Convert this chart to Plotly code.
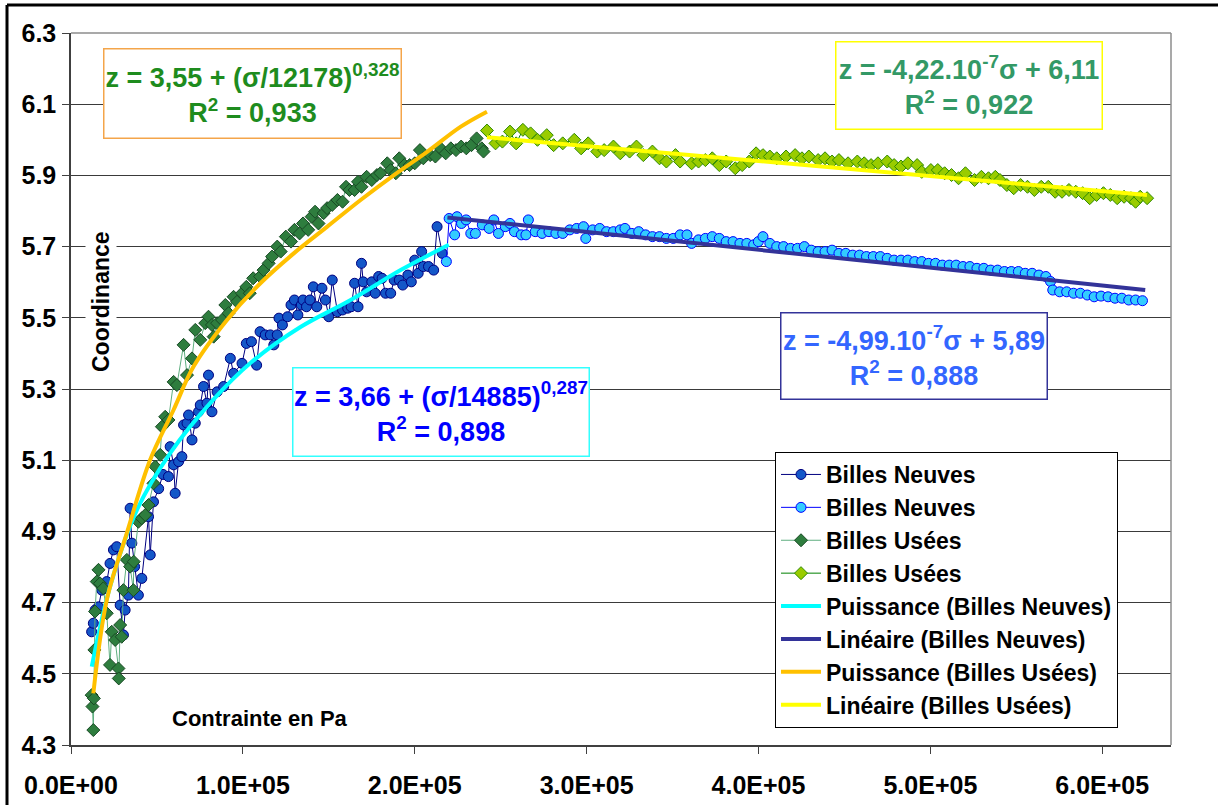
import plotly.graph_objects as go

# ---------------- data ----------------
neuves1_x = [12000, 13000, 14000, 16000, 17900, 20800, 22700, 24700, 26600, 28600,
             30500, 31500, 33400, 34400, 35400, 37000, 39200, 41200, 45100, 46100,
             48000, 51000, 53500, 56700, 57700, 59700, 60600, 62600, 64500, 65500,
             67500, 68400, 70400, 72300, 74200, 75200, 77100, 79100, 80000, 82000,
             85000, 88800, 92700, 94600, 99500, 102000, 105000, 108000, 110000, 113000,
             116000, 118000, 120000, 121000, 123000, 126000, 128000, 130000, 132000, 134000,
             135000, 137000, 139000, 141000, 143000, 146000, 148000, 150000, 152000, 155000,
             158000, 161000, 163000, 165000, 167000, 169000, 170000, 172000, 175000, 177000,
             179000, 181000, 183000, 186000, 188000, 191000, 193000, 196000, 198000, 200000,
             202000, 204000, 205000, 208000, 211000, 213000, 216000]
neuves1_z = [4.618, 4.642, 4.679, 4.688, 4.735, 4.759, 4.81, 4.848, 4.857, 4.693,
             4.609, 4.679, 4.721, 4.965, 4.867, 4.801, 4.721, 4.768, 4.941, 4.834,
             4.983, 5.02, 5.06, 5.054, 5.138, 5.087, 5.007, 5.096, 5.11, 5.199,
             5.204, 5.227, 5.157, 5.204, 5.236, 5.255, 5.307, 5.26, 5.339, 5.236,
             5.292, 5.307, 5.386, 5.344, 5.372, 5.428, 5.433, 5.367, 5.461, 5.452,
             5.452, 5.424, 5.452, 5.499, 5.48, 5.503, 5.536, 5.55, 5.508, 5.536,
             5.55, 5.531, 5.55, 5.587, 5.531, 5.583, 5.55, 5.503, 5.606, 5.517,
             5.522, 5.527, 5.531, 5.597, 5.531, 5.653, 5.601, 5.573, 5.601, 5.569,
             5.616, 5.611, 5.569, 5.569, 5.606, 5.606, 5.592, 5.62, 5.601, 5.662,
             5.625, 5.686, 5.644, 5.644, 5.634, 5.756, 5.681]

neuves2_x = [218400, 220000, 223200, 224600, 227200, 229900, 232600, 235300, 239300, 243300,
             246000, 248700, 252700, 255400, 258000, 262000, 264700, 266100, 270100, 274100,
             278100, 282100, 286100, 290200, 294200, 298200, 299500, 303500, 307600, 311600,
             315600, 319600, 322300, 326300, 330300, 334300, 338300, 342400, 346400, 350400,
             354400, 358400, 361100, 365100, 369100, 373100, 377200, 381200, 385200, 389200,
             393200, 397200, 399900, 402600, 406600, 410600, 414600, 418700, 422700, 426700,
             430700, 434700, 438700, 442800, 446800, 450800, 454800, 458800, 462800, 466800,
             470900, 474900, 478900, 482900, 486900, 490900, 495000, 499000, 503000, 507000,
             511000, 515000, 519000, 523000, 527100, 531100, 535100, 539100, 543100, 547100,
             551200, 555200, 559200, 563200, 567200, 569900, 571200, 575200, 579300, 583300,
             587300, 591300, 595300, 599300, 603400, 607400, 611400, 615400, 619400, 623400]
neuves2_z = [5.658, 5.779, 5.733, 5.784, 5.765, 5.775, 5.737, 5.737, 5.761, 5.751,
             5.775, 5.737, 5.756, 5.765, 5.742, 5.733, 5.733, 5.775, 5.742, 5.737,
             5.742, 5.737, 5.737, 5.747, 5.751, 5.756, 5.723, 5.747, 5.751, 5.742,
             5.742, 5.747, 5.751, 5.737, 5.742, 5.733, 5.728, 5.728, 5.723, 5.723,
             5.733, 5.733, 5.709, 5.719, 5.723, 5.728, 5.723, 5.714, 5.714, 5.709,
             5.709, 5.705, 5.714, 5.728, 5.709, 5.70, 5.70, 5.695, 5.695, 5.70,
             5.69, 5.686, 5.686, 5.69, 5.681, 5.681, 5.676, 5.676, 5.672, 5.672,
             5.672, 5.667, 5.662, 5.662, 5.662, 5.658, 5.658, 5.653, 5.653, 5.648,
             5.648, 5.648, 5.644, 5.644, 5.639, 5.639, 5.634, 5.634, 5.63, 5.63,
             5.63, 5.625, 5.625, 5.62, 5.616, 5.602, 5.578, 5.573, 5.573, 5.569,
             5.569, 5.564, 5.559, 5.561, 5.559, 5.555, 5.555, 5.55, 5.55, 5.548]

usees1_x = [12000, 12500, 13000, 13300, 13600, 14000, 15000, 16000, 16900, 18800,
            20800, 22700, 23700, 25700, 27600, 27800, 28600, 29500, 30500, 32500,
            34400, 36300, 36500, 39200, 41200, 43200, 45100, 48000, 49000, 51900,
            52900, 54800, 56700, 59700, 61600, 65500, 67500, 70400, 72300, 75200,
            78100, 80000, 82000, 83000, 85000, 87900, 89800, 91700, 94600, 96600,
            99500, 102000, 104000, 106000, 110000, 112000, 115000, 117000, 120000, 122000,
            125000, 128000, 130000, 133000, 135000, 138000, 140000, 142000, 144000, 147000,
            149000, 152000, 155000, 158000, 160000, 162000, 165000, 167000, 169000, 172000,
            175000, 178000, 180000, 184000, 186000, 189000, 191000, 194000, 197000, 200000,
            203000, 205000, 209000, 212000, 215000, 218000, 221000, 224000, 227000, 230000,
            233000, 236000, 239000, 240000]
usees1_z = [4.44, 4.408, 4.342, 4.431, 4.567, 4.675, 4.759, 4.792, 4.754, 4.74,
            4.67, 4.525, 4.618, 4.595, 4.515, 4.487, 4.637, 4.604, 4.735, 4.82,
            4.801, 4.735, 4.815, 4.927, 4.937, 4.946, 4.974, 5.035, 5.082, 5.115,
            5.194, 5.222, 5.213, 5.32, 5.311, 5.424, 5.339, 5.386, 5.466, 5.438,
            5.485, 5.503, 5.48, 5.447, 5.485, 5.494, 5.536, 5.513, 5.559, 5.545,
            5.569, 5.587, 5.569, 5.611, 5.616, 5.634, 5.653, 5.672, 5.70, 5.686,
            5.728, 5.714, 5.747, 5.737, 5.765, 5.747, 5.784, 5.798, 5.765, 5.794,
            5.808, 5.817, 5.831, 5.826, 5.868, 5.859, 5.859, 5.882, 5.868, 5.896,
            5.887, 5.901, 5.906, 5.934, 5.915, 5.906, 5.948, 5.929, 5.929, 5.934,
            5.971, 5.948, 5.957, 5.953, 5.976, 5.962, 5.976, 5.971, 5.981, 5.976,
            5.985, 6.004, 5.976, 5.967]

usees2_x = [242000, 247000, 251000, 255400, 259000, 262900, 267400, 271400, 276800, 280800,
            286100, 292800, 296800, 300900, 306200, 310200, 315600, 319600, 325000, 329000,
            333000, 338300, 342400, 346400, 351700, 354400, 361100, 365100, 369100, 373100,
            377200, 381200, 386500, 390500, 394600, 398600, 402600, 406600, 410600, 416000,
            421300, 425300, 429300, 434700, 438700, 442800, 446800, 452100, 457500, 461500,
            465500, 469500, 474900, 478900, 482900, 486900, 492300, 495000, 500300, 504300,
            508300, 512300, 516400, 520400, 525700, 529700, 533800, 537800, 540500, 544500,
            548500, 552500, 556500, 560500, 564500, 568600, 572600, 576600, 580600, 584600,
            588600, 592700, 596700, 600700, 604700, 608700, 612700, 616700, 619400, 622100,
            626100]
usees2_z = [6.026, 5.99, 5.995, 6.023, 5.99, 6.028, 6.018, 6.0, 6.013, 5.985,
            5.99, 6.0, 5.976, 5.99, 5.967, 5.971, 5.981, 5.962, 5.967, 5.981,
            5.957, 5.967, 5.948, 5.939, 5.957, 5.939, 5.934, 5.939, 5.943, 5.948,
            5.929, 5.939, 5.92, 5.929, 5.939, 5.962, 5.957, 5.953, 5.948, 5.953,
            5.957, 5.948, 5.953, 5.943, 5.948, 5.939, 5.943, 5.934, 5.939, 5.934,
            5.929, 5.934, 5.939, 5.929, 5.925, 5.934, 5.929, 5.91, 5.915, 5.915,
            5.906, 5.901, 5.892, 5.906, 5.887, 5.896, 5.892, 5.896, 5.887, 5.873,
            5.864, 5.873, 5.868, 5.859, 5.868, 5.868, 5.854, 5.854, 5.859, 5.854,
            5.85, 5.836, 5.845, 5.85, 5.845, 5.836, 5.84, 5.836, 5.826, 5.84,
            5.836]

# trend lines
puis_neuves_x = [12070, 22740, 38310, 57730, 82800, 104400, 133500, 162700, 191800, 219800]
puis_neuves_z = [4.52, 4.745, 4.96, 5.12, 5.27, 5.373, 5.474, 5.55, 5.634, 5.705]
lin_neuves_x = [219000, 625000]
lin_neuves_z = [5.782, 5.578]
puis_usees_x = [13000, 20800, 32480, 46060, 59650, 71300, 90780, 110200, 129600,
                149100, 168500, 187900, 207400, 226800, 242000]
puis_usees_z = [4.445, 4.707, 4.895, 5.101, 5.241, 5.363, 5.494, 5.597, 5.681,
                5.756, 5.831, 5.901, 5.967, 6.037, 6.079]
lin_usees_x = [242000, 626000]
lin_usees_z = [6.007, 5.845]

x_tick_vals = [0, 100000, 200000, 300000, 400000, 500000, 600000]
x_tick_text = ["0.0E+00", "1.0E+05", "2.0E+05", "3.0E+05", "4.0E+05", "5.0E+05", "6.0E+05"]

# ---------------- figure ----------------
FONT = "Liberation Sans, Arial, sans-serif"
W, H = 1218, 805
L, R, T, B = 71, 1171, 33, 745


def pp(px, py):
    return (px - L) / (R - L), (B - py) / (B - T)


fig = go.Figure()

fig.add_trace(go.Scatter(
    x=neuves1_x, y=neuves1_z, mode="lines+markers", name="Billes Neuves",
    line=dict(color="#000080", width=1),
    marker=dict(symbol="circle", size=10, color="#1457C8", line=dict(color="#000080", width=1))))
fig.add_trace(go.Scatter(
    x=neuves2_x, y=neuves2_z, mode="lines+markers", name="Billes Neuves",
    line=dict(color="#0000FF", width=1),
    marker=dict(symbol="circle", size=10, color="#33CCFF", line=dict(color="#0000FF", width=1))))
fig.add_trace(go.Scatter(
    x=usees1_x, y=usees1_z, mode="lines+markers", name="Billes Usées",
    line=dict(color="#5FAF80", width=1),
    marker=dict(symbol="diamond", size=10, color="#2E7D3E", line=dict(color="#184A24", width=1))))
fig.add_trace(go.Scatter(
    x=usees2_x, y=usees2_z, mode="lines+markers", name="Billes Usées",
    line=dict(color="#008000", width=1),
    marker=dict(symbol="diamond", size=10, color="#99CC00", line=dict(color="#2F8A00", width=1))))

fig.add_trace(go.Scatter(
    x=puis_neuves_x, y=puis_neuves_z, mode="lines", name="Puissance (Billes Neuves)",
    line=dict(color="#00FFFF", width=4, shape="spline", smoothing=1.0)))
fig.add_trace(go.Scatter(
    x=lin_neuves_x, y=lin_neuves_z, mode="lines", name="Linéaire (Billes Neuves)",
    line=dict(color="#333399", width=4)))
fig.add_trace(go.Scatter(
    x=puis_usees_x, y=puis_usees_z, mode="lines", name="Puissance (Billes Usées)",
    line=dict(color="#FFC000", width=4, shape="spline", smoothing=1.0)))
fig.add_trace(go.Scatter(
    x=lin_usees_x, y=lin_usees_z, mode="lines", name="Linéaire (Billes Usées)",
    line=dict(color="#FFFF00", width=4)))

tickfont = dict(family=FONT, size=25, color="black", weight="bold")

fig.update_xaxes(range=[0, 640000], tickvals=x_tick_vals, ticktext=x_tick_text,
                 ticks="outside", ticklen=7, tickcolor="#404040", tickwidth=1,
                 showline=True, linecolor="#404040", linewidth=1.5, automargin=False,
                 showgrid=False, zeroline=False, tickfont=tickfont, ticklabelstandoff=10)
fig.update_yaxes(range=[4.3, 6.3], tick0=4.3, dtick=0.2, tickformat=".1f",
                 ticks="outside", ticklen=7, tickcolor="#404040", tickwidth=1,
                 showline=True, linecolor="#404040", linewidth=1.5, automargin=False,
                 showgrid=True, gridcolor="#3a3a3a", gridwidth=1,
                 zeroline=False, tickfont=tickfont, ticklabelstandoff=1)

lx, ly = pp(775, 452)
fig.update_layout(
    width=W, height=H,
    margin=dict(l=L, r=W - R, t=T, b=H - B, pad=0, autoexpand=False),
    paper_bgcolor="white", plot_bgcolor="white",
    font=dict(family=FONT, color="black"),
    showlegend=True,
    legend=dict(x=lx, y=ly, xanchor="left", yanchor="top",
                bgcolor="white", bordercolor="black", borderwidth=1,
                font=dict(family=FONT, size=23, color="black", weight="bold"),
                itemwidth=40, tracegroupgap=0),
)

# plot-area border (top and right) and outer frame
x0p, y0p = pp(7, 5)
shapes = [
    dict(type="line", xref="paper", yref="paper", x0=0, x1=1, y0=1, y1=1,
         line=dict(color="#8c8c8c", width=1.5)),
    dict(type="line", xref="paper", yref="paper", x0=1, x1=1, y0=0, y1=1,
         line=dict(color="#8c8c8c", width=1.5)),
    dict(type="line", xref="paper", yref="paper", x0=x0p, x1=pp(1240, 0)[0], y0=y0p, y1=y0p,
         line=dict(color="black", width=3)),
    dict(type="line", xref="paper", yref="paper", x0=x0p, x1=x0p, y0=y0p, y1=pp(0, 830)[1],
         line=dict(color="black", width=3)),
]
fig.update_layout(shapes=shapes)


def eq_box(left, top, w, h, text, color, border):
    x, y = pp(left, top)
    fig.add_annotation(xref="paper", yref="paper", x=x, y=y, xanchor="left", yanchor="top",
                       text=text, showarrow=False, align="center", valign="middle",
                       width=w - 3, height=h - 3, borderpad=0, borderwidth=1.5,
                       bordercolor=border, bgcolor="white",
                       font=dict(family=FONT, size=27, color=color, weight="bold"))


eq_box(103, 48, 299, 91, "z = 3,55 + (σ/12178)<sup>0,328</sup><br>R<sup>2</sup> = 0,933",
       "#1E8C1E", "#F4A54A")
eq_box(835, 41, 268, 89, "z = -4,22.10<sup>-7</sup>σ + 6,11<br>R<sup>2</sup> = 0,922",
       "#339966", "#FFFF00")
eq_box(292, 367, 298, 90, "z = 3,66 + (σ/14885)<sup>0,287</sup><br>R<sup>2</sup> = 0,898",
       "#0000FF", "#33FFFF")
eq_box(780, 312, 268, 88, "z = -4,99.10<sup>-7</sup>σ + 5,89<br>R<sup>2</sup> = 0,888",
       "#3366FF", "#333399")

# axis titles placed inside the plot area as in the original
ax, ay = pp(101, 302)
fig.add_annotation(xref="paper", yref="paper", x=ax, y=ay, xanchor="center", yanchor="middle",
                   text="Coordinance", textangle=-90,
                   showarrow=False, bgcolor="white", borderpad=2,
                   font=dict(family=FONT, size=23, color="black", weight="bold"))
tx, ty = pp(260, 718)
fig.add_annotation(xref="paper", yref="paper", x=tx, y=ty, xanchor="center", yanchor="middle",
                   text="Contrainte en Pa",
                   showarrow=False, font=dict(family=FONT, size=22, color="black", weight="bold"))

fig.write_html("out.html", config={"displayModeBar": False},
               post_script="document.body.style.margin='0';document.body.style.overflow='hidden';")
